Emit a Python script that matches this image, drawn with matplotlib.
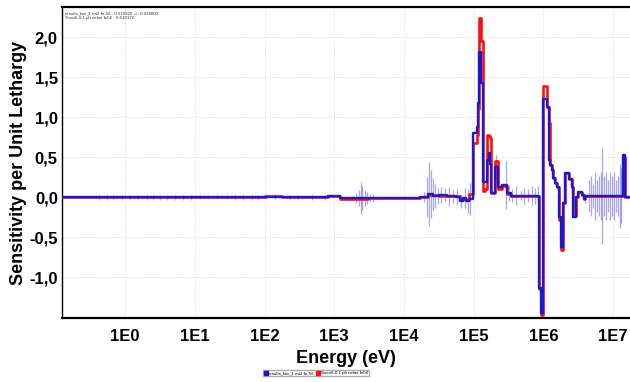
import numpy as np
import matplotlib
matplotlib.use("Agg")
import matplotlib.pyplot as plt
from matplotlib.ticker import FuncFormatter, FixedLocator
from matplotlib.lines import Line2D

# ---------------- data ----------------
# step-curve bin starts (eV) and values (sensitivity per unit lethargy)
bin_E = [0.1, 1.0e1, 3.0e1, 1.0e2, 1.8e2, 8.0e2, 1.2e3, 3.0e3, 5.0e3, 1.0e4,
         1.7e4, 2.2e4, 2.6e4, 3.2e4, 4.2e4, 5.5e4, 6.3e4, 7.0e4, 7.8e4, 8.5e4,
         9.7e4, 1.10e5, 1.14e5, 1.19e5, 1.27e5, 1.36e5, 1.45e5, 1.55e5, 1.65e5, 1.70e5,
         1.75e5, 2.05e5, 2.25e5, 2.55e5, 3.0e5, 3.4e5, 8.8e5, 9.2e5, 1.00e6, 1.11e6,
         1.19e6, 1.26e6, 1.32e6, 1.38e6, 1.45e6, 1.55e6, 1.66e6, 1.80e6, 1.93e6, 2.03e6,
         2.32e6, 2.55e6, 2.70e6, 2.95e6, 3.10e6, 3.60e6, 3.80e6, 4.00e6, 1.38e7, 1.48e7,
         2.0e7]
blue_vals = [0.000, 0.002, -0.004, 0.004, 0.000, 0.012, -0.012, -0.010, -0.014, -0.012,
             0.000, 0.040, 0.020, 0.030, 0.010, 0.000, -0.050, -0.010, -0.050, -0.020,
             0.800, 0.870, 1.170, 1.810, 1.420, 0.190, 0.190, 0.460, 0.550, 0.420,
             0.050, 0.380, 0.130, 0.150, 0.050, 0.020, -1.140, -1.450, 1.220, 1.130,
             0.460, 0.400, 0.340, 0.240, 0.180, 0.130, -0.250, -0.620, -0.070, 0.300,
             0.230, 0.130, -0.250, 0.000, 0.060, 0.030, -0.020, 0.010, 0.520, 0.000,
             0.000]
red_vals = [0.000, 0.000, 0.004, 0.008, -0.004, 0.010, -0.020, -0.010, -0.006, -0.012,
            0.000, 0.030, 0.030, 0.020, 0.020, 0.010, -0.040, -0.020, -0.040, 0.040,
            0.670, 0.780, 1.100, 2.240, 1.950, 0.080, 0.100, 0.780, 0.760, 0.740,
            0.050, 0.450, 0.100, 0.140, 0.040, 0.020, -1.150, -1.470, 1.390, 1.130,
            0.920, 0.400, 0.340, 0.240, 0.180, 0.130, -0.280, -0.660, -0.070, 0.300,
            0.230, 0.130, -0.240, 0.000, 0.060, 0.030, -0.020, 0.010, 0.500, 0.000,
            0.000]

# uncertainty spikes: energy (eV) and half-height
err_E = [0.423, 0.551, 0.672, 0.906, 1.18, 1.54, 2.07, 2.53, 3.18, 4.01,
         5.23, 6.81, 8.88, 11.9, 15.6, 21.0, 29.2, 38.0, 49.6, 66.8,
         81.5, 106, 143, 235, 306, 486, 748,
         2.02e3, 2.23e3, 2.38e3, 2.54e3, 2.72e3, 2.90e3, 3.21e3, 3.54e3,
         1.91e4, 2.11e4, 2.26e4, 2.41e4, 2.58e4, 2.75e4, 3.04e4, 3.36e4, 3.83e4, 4.37e4,
         4.99e4, 5.70e4, 6.50e4, 7.43e4, 8.20e4, 8.77e4,
         1.59e5, 2.07e5, 2.90e5, 3.20e5, 3.6e5, 4.1e5, 4.7e5, 5.3e5, 6.0e5, 6.8e5, 7.6e5, 8.3e5,
         3.9e6,
         4.49e6, 4.80e6, 5.13e6, 5.48e6, 5.85e6, 6.25e6, 6.68e6, 6.91e6, 7.38e6, 7.88e6,
         8.42e6, 9.00e6, 9.61e6, 1.03e7, 1.10e7, 1.17e7, 1.25e7, 1.29e7]
err_half = [0.03, 0.03, 0.03, 0.03, 0.03, 0.03, 0.03, 0.03, 0.03, 0.03,
            0.03, 0.03, 0.03, 0.03, 0.03, 0.03, 0.03, 0.03, 0.03, 0.03,
            0.03, 0.03, 0.03, 0.03, 0.03, 0.03, 0.03,
            0.06, 0.10, 0.20, 0.15, 0.10, 0.08, 0.05, 0.05,
            0.06, 0.25, 0.40, 0.30, 0.20, 0.15, 0.10, 0.10, 0.08, 0.12,
            0.08, 0.10, 0.08, 0.12, 0.15, 0.20,
            0.20, 0.15, 0.30, 0.10, 0.08, 0.12, 0.06, 0.10, 0.08, 0.12, 0.10, 0.12,
            0.05,
            0.20, 0.25, 0.15, 0.30, 0.20, 0.25, 0.30, 0.60, 0.25, 0.30,
            0.20, 0.30, 0.25, 0.30, 0.20, 0.25, 0.40, 0.35]

x_ticks = [1e0, 1e1, 1e2, 1e3, 1e4, 1e5, 1e6, 1e7]
x_tick_labels = ["1E0", "1E1", "1E2", "1E3", "1E4", "1E5", "1E6", "1E7"]
y_ticks = [-1.0, -0.5, 0.0, 0.5, 1.0, 1.5, 2.0]

legend_labels = ["results_bin_1 mt2 fe-56", "Suso6-0.1.plt nelas fe56"]
info_lines = ["results_bin_1 mt2 fe-56 : 0.570920 +/- 0.028000",
              "%sot6-0.1.plt nelas fe56 : 0.610172"]

# ---------------- plot ----------------
plt.rcParams['font.family'] = ['Liberation Sans', 'DejaVu Sans']
fig = plt.figure(figsize=(6.3, 3.82), dpi=100)
ax = fig.add_axes([62/630, 1-318/382, 1-62/630, (318-7)/382])

blue = '#1a1acc'
red = '#ff1010'

bE = np.array(bin_E)
bv = np.array(blue_vals)
rv = np.array(red_vals)

# error spikes centred on the blue curve
eE = np.array(err_E)
idx = np.clip(np.searchsorted(bE, eE, side='right') - 1, 0, len(bv) - 1)
centre = bv[idx]
eh = np.array(err_half)
ax.vlines(eE, centre - eh, centre + eh, colors='#8080f0', linewidth=0.9, alpha=0.7, zorder=2)

ax.plot(bE, rv, drawstyle='steps-post', color=red, linewidth=1.9, zorder=3)
ax.plot(bE, bv, drawstyle='steps-post', color=blue, linewidth=1.7, zorder=4)

ax.set_xscale('log')
ax.set_xlim(0.124, 1.75e7)
ax.set_ylim(-1.51, 2.375)

ax.xaxis.set_major_locator(FixedLocator(x_ticks))
ax.xaxis.set_minor_locator(FixedLocator([]))
ax.set_xticklabels(x_tick_labels)
ax.yaxis.set_major_locator(FixedLocator(y_ticks))
ax.yaxis.set_major_formatter(FuncFormatter(lambda v, p: f"{v:.1f}".replace('.', ',')))

ax.tick_params(axis='both', length=0, labelsize=12, pad=8)
for lab in ax.get_xticklabels() + ax.get_yticklabels():
    lab.set_fontweight('bold')
ax.tick_params(axis='y', pad=3)

ax.grid(True, color='#e2e2e2', linestyle=(0, (1.5, 1.5)), linewidth=0.7)
ax.set_axisbelow(True)

for s in ['top', 'bottom']:
    ax.spines[s].set_linewidth(1.6)
ax.spines['left'].set_linewidth(1.0)
ax.spines['right'].set_visible(False)

ax.set_xlabel("Energy (eV)", fontsize=13, fontweight='bold', labelpad=4)
ax.set_ylabel("Sensitivity per Unit Lethargy", fontsize=13, fontweight='bold', labelpad=2)

ax.text(0.005, 0.985, info_lines[0] + "\n" + info_lines[1], transform=ax.transAxes,
        fontsize=3.2, va='top', ha='left', color='#333333', linespacing=1.1)

handles = [Line2D([], [], marker='s', color=blue, linestyle='none', markersize=2.5),
           Line2D([], [], marker='s', color=red, linestyle='none', markersize=2.5)]
fig.legend(handles, legend_labels, loc='center', bbox_to_anchor=(316/630, 1-373/382),
           ncol=2, fontsize=3.2, frameon=True, fancybox=False, edgecolor='#999999',
           handlelength=0.6, handletextpad=0.3, columnspacing=0.6, borderpad=0.3)

fig.savefig("out.png", dpi=100)
